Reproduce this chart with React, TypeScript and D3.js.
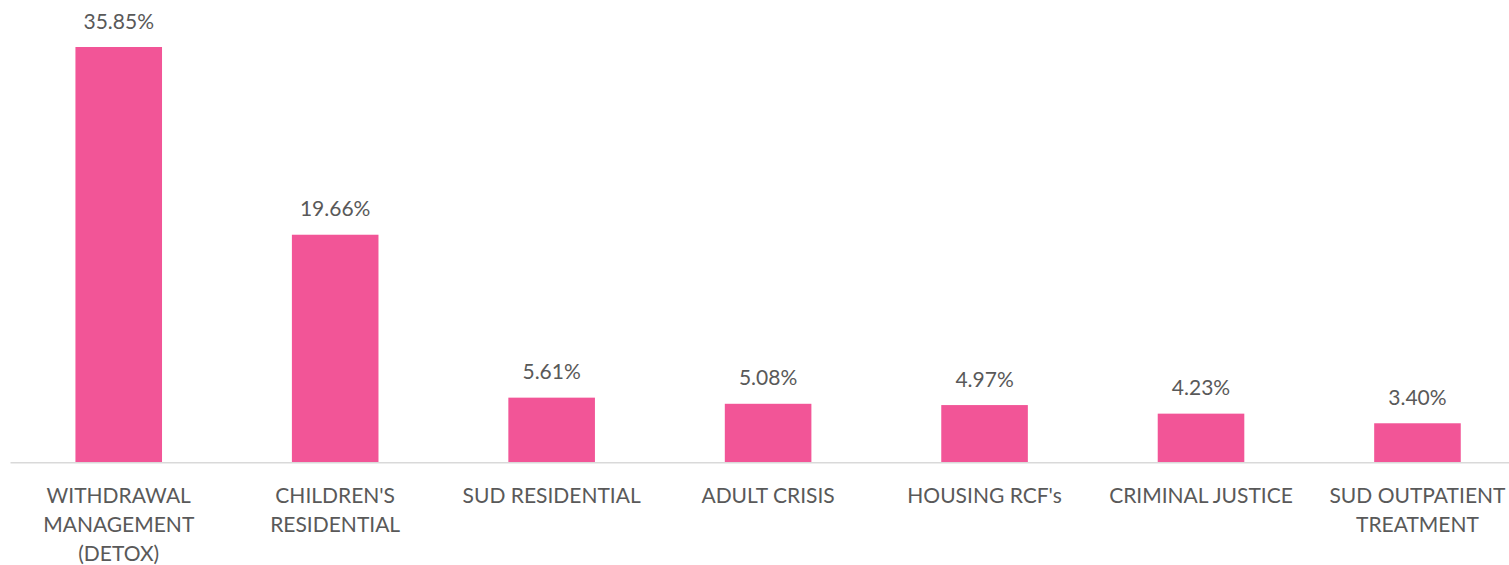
import React from 'react';
import * as d3 from 'd3';

const categories = [
  ['WITHDRAWAL', 'MANAGEMENT', '(DETOX)'],
  ["CHILDREN'S", 'RESIDENTIAL'],
  ['SUD RESIDENTIAL'],
  ['ADULT CRISIS'],
  ["HOUSING RCF's"],
  ['CRIMINAL JUSTICE'],
  ['SUD OUTPATIENT', 'TREATMENT'],
];
const values = [35.85, 19.66, 5.61, 5.08, 4.97, 4.23, 3.4];

const width = 1509;
const height = 565;
const margin = { left: 10.5, right: -16.7, baseline: 462.7 };
const font = 'Lato, "Open Sans", sans-serif';
const textColor = '#595959';
const barColor = '#F25597';

const App = () => {
  const keys = categories.map((c, i) => `${i}`);

  const x = d3.scaleBand()
    .domain(keys)
    .range([margin.left, width - margin.right])
    .paddingInner(0.6)
    .paddingOuter(0.3);

  // 35.85% reaches y=47
  const y = d3.scaleLinear()
    .domain([0, 35.85])
    .range([margin.baseline, 47]);

  return (
    <svg width={width} height={height} style={{ position: 'absolute', left: 0, top: 0 }}>
      <rect width={width} height={height} fill="#fff" />
      {values.map((v, i) => (
        <rect
          key={`bar-${i}`}
          x={x(keys[i])}
          y={y(v)}
          width={x.bandwidth()}
          height={y(0) - y(v)}
          fill={barColor}
        />
      ))}
      <line x1={margin.left} x2={width} y1={y(0)} y2={y(0)} stroke="#D9D9D9" strokeWidth={1.5} />
      {values.map((v, i) => (
        <text
          key={`val-${i}`}
          x={x(keys[i])! + x.bandwidth() / 2}
          y={y(v) - 18.5}
          textAnchor="middle"
          fontFamily={font}
          fontSize={21}
          fill={textColor}
        >
          {v.toFixed(2)}%
        </text>
      ))}
      {categories.map((lines, i) => (
        <text
          key={`cat-${i}`}
          x={x(keys[i])! + x.bandwidth() / 2}
          y={y(0) + 40}
          textAnchor="middle"
          fontFamily={font}
          fontSize={21}
          fill={textColor}
        >
          {lines.map((l, j) => (
            <tspan key={j} x={x(keys[i])! + x.bandwidth() / 2} dy={j === 0 ? 0 : 29}>{l}</tspan>
          ))}
        </text>
      ))}
    </svg>
  );
};

export default App;
